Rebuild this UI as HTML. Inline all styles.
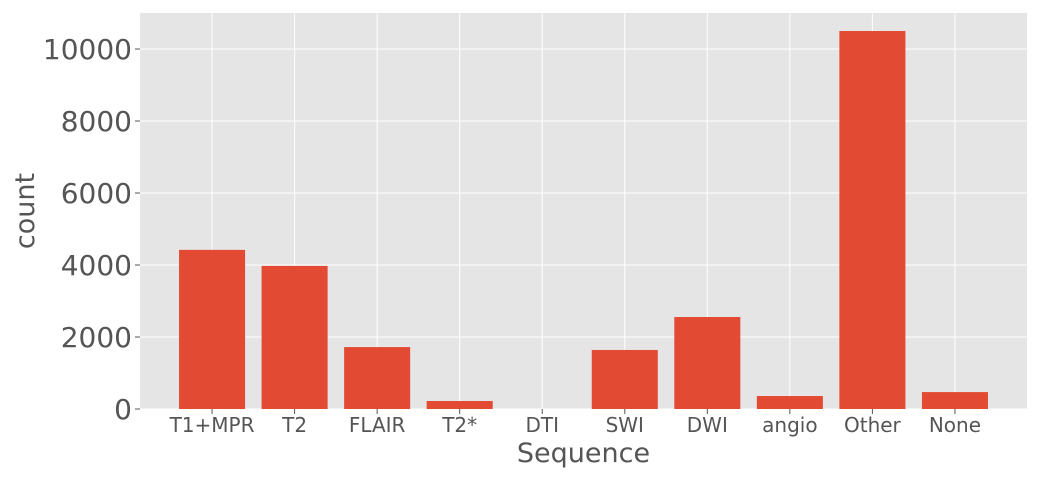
<!DOCTYPE html>
<html><head><meta charset="utf-8"><style>
body{margin:0;background:#fff;}
svg{display:block;font-family:"DejaVu Sans","Liberation Sans",sans-serif;}
</style></head><body>
<svg id="chart" width="1040" height="480" viewBox="0 0 1040 480"></svg>
<script>
const categories=["T1+MPR","T2","FLAIR","T2*","DTI","SWI","DWI","angio","Other","None"];
const counts=[4420,3975,1720,222,0,1640,2555,360,10500,470];
const yTicks=[0,2000,4000,6000,8000,10000];
const NS="http://www.w3.org/2000/svg";
const svg=document.getElementById('chart');
const L=140,R=1027,T=13,B=409;
const xmin=-0.873,xmax=9.873,ymin=0,ymax=11000;
function x(v){return L+(v-xmin)/(xmax-xmin)*(R-L);}
function y(v){return B-(v-ymin)/(ymax-ymin)*(B-T);}
function mk(tag,attrs){const e=document.createElementNS(NS,tag);for(const k in attrs)e.setAttribute(k,attrs[k]);svg.appendChild(e);return e;}
const bg=mk('rect',{x:L,y:T,width:R-L,height:B-T,fill:'#E5E5E5'});


yTicks.forEach(t=>{
  const g=mk('line',{x1:L,x2:R,y1:y(t),y2:y(t),stroke:'#fff','stroke-width':1});
  
  
  const tk=mk('line',{x1:L-5,x2:L,y1:y(t),y2:y(t),stroke:'#555','stroke-width':1});
  
  
  const lb=mk('text',{x:L-8,y:y(t)+10,'text-anchor':'end','font-size':28,fill:'#555'});
  lb.textContent=t;
  
  
});
categories.forEach((c,i)=>{
  const g=mk('line',{x1:x(i),x2:x(i),y1:T,y2:B,stroke:'#fff','stroke-width':1});
  
  
});
categories.forEach((c,i)=>{
  const w=0.8*(x(1)-x(0));
  const b=mk('rect',{x:x(i)-w/2,y:y(counts[i]),width:w,height:y(0)-y(counts[i]),fill:'#E24A33'});
  
  
  const tk=mk('line',{x1:x(i),x2:x(i),y1:B,y2:B+5,stroke:'#555','stroke-width':1});
  
  
  const lb=mk('text',{x:x(i),y:B+23,'text-anchor':'middle','font-size':20,fill:'#555'});
  lb.textContent=c;
  
  
});
const xt=mk('text',{x:(L+R)/2,y:462,'text-anchor':'middle','font-size':27,fill:'#555'});
xt.textContent='Sequence';


const yt=mk('text',{x:0,y:0,'text-anchor':'middle','font-size':27,fill:'#555',transform:'translate(34,'+((T+B)/2)+') rotate(-90)'});
yt.textContent='count';


</script>
</body></html>
